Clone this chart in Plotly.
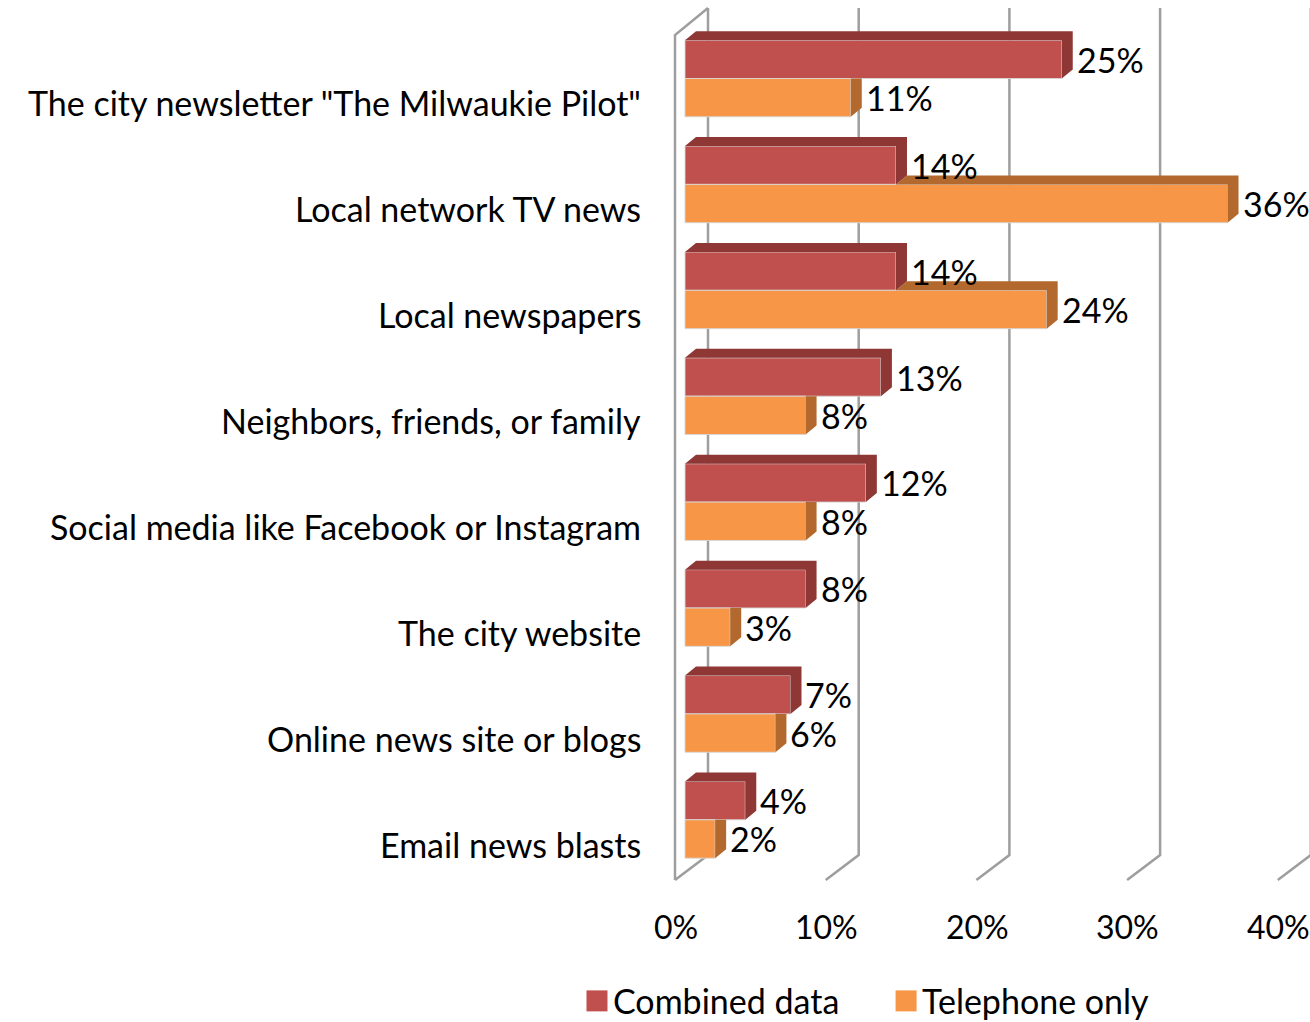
import plotly.graph_objects as go

# Survey: where residents get information about the city
categories = [
    'The city newsletter "The Milwaukie Pilot"',
    "Local network TV news",
    "Local newspapers",
    "Neighbors, friends, or family",
    "Social media like Facebook or Instagram",
    "The city website",
    "Online news site or blogs",
    "Email news blasts",
]
combined = [25, 14, 14, 13, 12, 8, 7, 4]
telephone = [11, 36, 24, 8, 8, 3, 6, 2]
series_names = ["Combined data", "Telephone only"]
x_ticks = [0, 10, 20, 30, 40]

# Colours: front face, then the shaded top/side faces
RED, RED_DARK = "#C0504D", "#8F3735"
ORANGE, ORANGE_DARK = "#F79646", "#B3692D"
GRID = "#9E9E9E"
FONT = "Lato"
FONT_SIZE = 34
TICK_FONT_SIZE = 32

# Figure geometry (x in percent, y in category rows)
W, H = 1310, 1022
PX_PER_PCT = 15.07
X0_PX = 685.0
PX_PER_ROW = 105.9
Y0_PX = 78.5
x_range = [-X0_PX / PX_PER_PCT, (W - X0_PX) / PX_PER_PCT]
y_range = [(H - Y0_PX) / PX_PER_ROW, -Y0_PX / PX_PER_ROW]

BAR_H = 0.362          # thickness of each bar, in rows
DX = 11 / PX_PER_PCT   # bar depth, horizontal part
DY = 9 / PX_PER_ROW    # bar depth, vertical part
BACK_X = 23 / PX_PER_PCT     # back wall offset from the bar plane
FRONT_X = -10 / PX_PER_PCT   # front edge offset from the bar plane
BACK_TOP = -0.666
BACK_BOT = 7.333
FRONT_BOT = 7.568
WALL_FRONT_TOP = -0.411


def poly(pts, xs, ys):
    for px, py in pts:
        xs.append(px)
        ys.append(py)
    xs.append(pts[0][0])
    ys.append(pts[0][1])
    xs.append(None)
    ys.append(None)


fig = go.Figure()

# Front faces
red_y = [i - BAR_H / 2 for i in range(len(categories))]
org_y = [i + BAR_H / 2 for i in range(len(categories))]
fig.add_trace(go.Bar(
    y=red_y, x=combined, orientation="h", width=BAR_H, base=0,
    marker=dict(color=RED, line=dict(color="rgba(215,215,215,0.9)", width=1)),
    name=series_names[0], showlegend=False, hoverinfo="skip",
))
fig.add_trace(go.Bar(
    y=org_y, x=telephone, orientation="h", width=BAR_H, base=0,
    marker=dict(color=ORANGE, line=dict(color="rgba(215,215,215,0.9)", width=1)),
    name=series_names[1], showlegend=False, hoverinfo="skip",
))

# Top and side faces
ox, oy, rx, ry = [], [], [], []
for i, (c, t) in enumerate(zip(combined, telephone)):
    top_r = i - BAR_H
    mid = i
    bot_o = i + BAR_H
    # orange: top face only where it sticks out beyond the red bar
    if t > c:
        poly([(c, mid), (t, mid), (t + DX, mid - DY), (c + DX, mid - DY)], ox, oy)
        poly([(t, mid), (t + DX, mid - DY), (t + DX, bot_o - DY), (t, bot_o)], ox, oy)
    else:
        poly([(t, mid), (t + DX, mid), (t + DX, bot_o - DY), (t, bot_o)], ox, oy)
    # red: top and side
    poly([(0, top_r), (c, top_r), (c + DX, top_r - DY), (DX, top_r - DY)], rx, ry)
    poly([(c, top_r), (c + DX, top_r - DY), (c + DX, mid - DY), (c, mid)], rx, ry)

fig.add_trace(go.Scatter(x=ox, y=oy, mode="lines", fill="toself", fillcolor=ORANGE_DARK,
                         line=dict(width=0, color=ORANGE_DARK), hoverinfo="skip", showlegend=False))
fig.add_trace(go.Scatter(x=rx, y=ry, mode="lines", fill="toself", fillcolor=RED_DARK,
                         line=dict(width=0, color=RED_DARK), hoverinfo="skip", showlegend=False))

# Walls and gridlines (behind the bars)
shapes = []
line = dict(color=GRID, width=2.5)
shapes.append(dict(type="path", layer="below", line=line,
                   path=f"M{FRONT_X},{FRONT_BOT} L{FRONT_X},{WALL_FRONT_TOP} L{BACK_X},{BACK_TOP}"))
for g in x_ticks:
    shapes.append(dict(type="path", layer="below", line=line,
                       path=f"M{g + BACK_X},{BACK_TOP} L{g + BACK_X},{BACK_BOT} L{g + FRONT_X},{FRONT_BOT}"))
for s in shapes:
    s.update(xref="x", yref="y")

annotations = []
txt = dict(family=FONT, size=FONT_SIZE, color="black")
tick_txt = dict(family=FONT, size=TICK_FONT_SIZE, color="black")
# Category labels
for i, cat in enumerate(categories):
    annotations.append(dict(x=-2.8, y=i + 0.23, text=cat, showarrow=False,
                            xanchor="right", yanchor="middle", font=txt))
# Value labels
for i, (c, t) in enumerate(zip(combined, telephone)):
    annotations.append(dict(x=c + DX, y=i - BAR_H / 2, text=f"{c}%", showarrow=False,
                            xanchor="left", yanchor="middle", xshift=2, font=txt))
    annotations.append(dict(x=t + DX, y=i + BAR_H / 2, text=f"{t}%", showarrow=False,
                            xanchor="left", yanchor="middle", xshift=2, font=txt))
# Axis tick labels along the front edge of the floor
for g in x_ticks:
    annotations.append(dict(x=g + FRONT_X + 0.05, y=8.012, text=f"{g}%", showarrow=False,
                            xanchor="center", yanchor="middle", font=tick_txt))

# Legend
leg_y = 8.71
leg_items = [(series_names[0], RED, -5.84), (series_names[1], ORANGE, 14.67)]
fig.add_trace(go.Scatter(
    x=[it[2] for it in leg_items], y=[leg_y, leg_y], mode="markers",
    marker=dict(symbol="square", size=21, color=[it[1] for it in leg_items]),
    hoverinfo="skip", showlegend=False,
))
for name, col, lx in leg_items:
    annotations.append(dict(x=lx + 0.95, y=leg_y, text=name, showarrow=False,
                            xanchor="left", yanchor="middle", font=txt))

fig.update_layout(
    width=W, height=H,
    margin=dict(l=0, r=0, t=0, b=0),
    paper_bgcolor="white", plot_bgcolor="white",
    xaxis=dict(range=x_range, visible=False, fixedrange=True),
    yaxis=dict(range=y_range, visible=False, fixedrange=True),
    shapes=shapes, annotations=annotations,
    barmode="overlay", showlegend=False,
)

fig.write_html("out.html")
